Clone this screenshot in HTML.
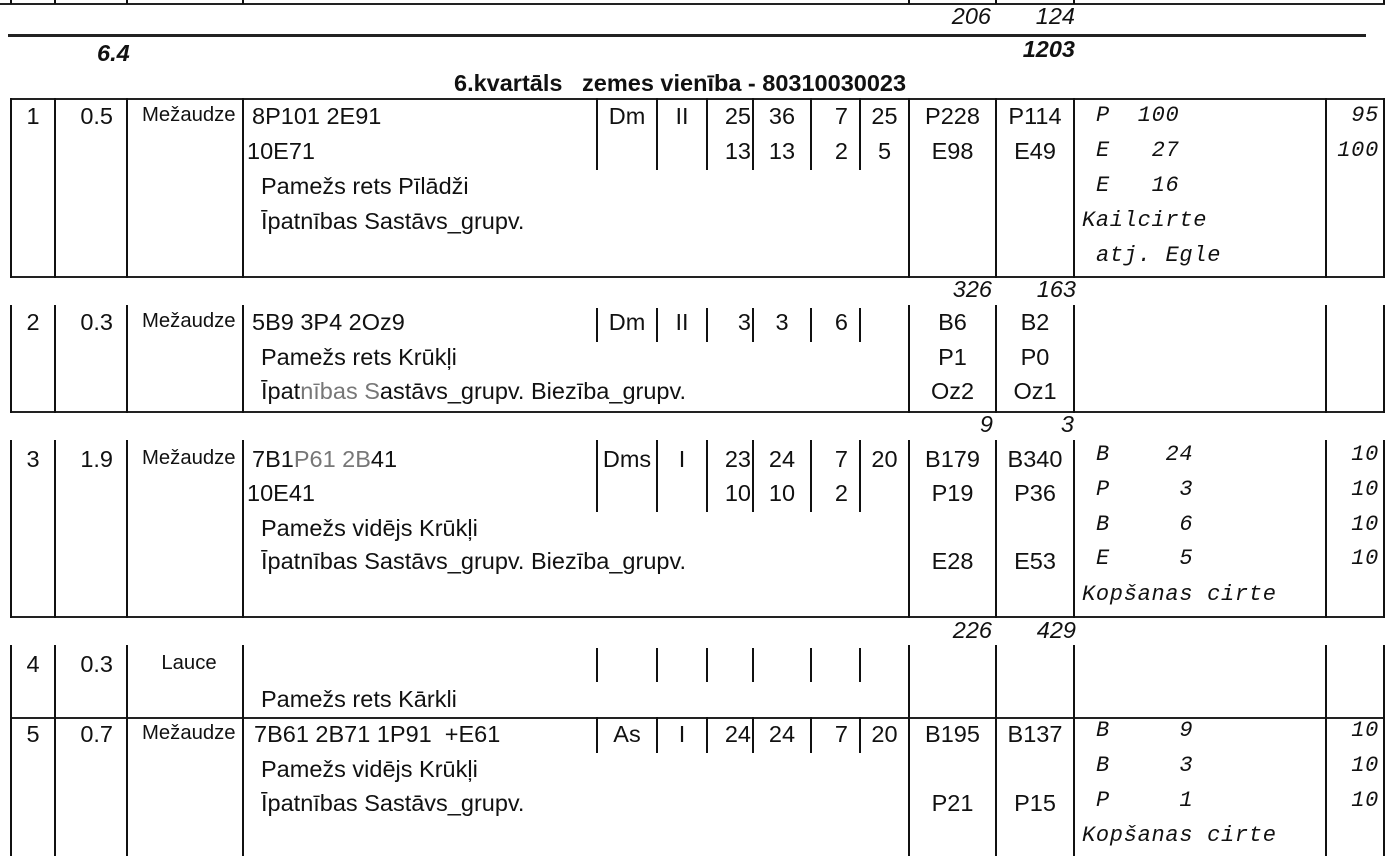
<!DOCTYPE html>
<html><head><meta charset="utf-8"><style>
body{margin:0;width:1396px;height:856px;background:#fff;position:relative;overflow:hidden;font-family:"Liberation Sans",sans-serif;color:#111}
div{position:absolute}
.t{font-size:23.5px;line-height:24px;white-space:nowrap}
.s{font-size:20.3px;line-height:24px;white-space:nowrap}
.m{font-family:"Liberation Mono",monospace;font-style:italic;font-size:22px;line-height:24px;white-space:pre;letter-spacing:0.7px}
.i{font-style:italic;font-size:23.5px;line-height:24px;white-space:nowrap}
.b{font-weight:bold}
.c{text-align:center}.r{text-align:right}
.v{width:2px;background:#111}
.h{height:2px;background:#222}
</style></head><body>
<!-- top fragment -->
<div class="h" style="left:0;top:3px;width:1385px"></div>
<div class="v" style="left:10px;top:0;height:4px"></div><div class="v" style="left:54px;top:0;height:4px"></div>
<div class="v" style="left:126px;top:0;height:4px"></div><div class="v" style="left:242px;top:0;height:4px"></div>
<div class="v" style="left:908px;top:0;height:4px"></div><div class="v" style="left:995px;top:0;height:4px"></div>
<div class="v" style="left:1073px;top:0;height:4px"></div><div class="v" style="left:1383px;top:0;height:4px"></div>
<div class="i r" style="left:900px;width:91px;top:4px">206</div>
<div class="i r" style="left:1000px;width:75px;top:4px">124</div>
<div class="h" style="left:8px;top:34px;width:1358px;height:3px"></div>
<div class="i b" style="left:97px;top:41px">6.4</div>
<div class="i b r" style="left:990px;width:85px;top:37px">1203</div>
<div class="t b" style="left:454px;top:71px">6.kvartāls&nbsp;&nbsp; zemes vienība - 80310030023</div>

<!-- Row 1 -->
<div class="h" style="left:10px;top:98px;width:1375px"></div>
<div class="h" style="left:10px;top:276px;width:1375px"></div>
<div class="v" style="left:10px;top:98px;height:180px"></div>
<div class="v" style="left:54px;top:98px;height:180px"></div>
<div class="v" style="left:126px;top:98px;height:180px"></div>
<div class="v" style="left:242px;top:98px;height:180px"></div>
<div class="v" style="left:908px;top:98px;height:180px"></div>
<div class="v" style="left:995px;top:98px;height:180px"></div>
<div class="v" style="left:1073px;top:98px;height:180px"></div>
<div class="v" style="left:1325px;top:98px;height:180px"></div>
<div class="v" style="left:1383px;top:98px;height:180px"></div>
<div class="v" style="left:596px;top:98px;height:72px"></div>
<div class="v" style="left:656px;top:98px;height:72px"></div>
<div class="v" style="left:706px;top:98px;height:72px"></div>
<div class="v" style="left:752px;top:98px;height:72px"></div>
<div class="v" style="left:810px;top:98px;height:72px"></div>
<div class="v" style="left:859px;top:98px;height:72px"></div>
<div class="t c" style="left:12px;width:42px;top:104px">1</div>
<div class="t r" style="left:56px;width:57px;top:104px">0.5</div>
<div class="s" style="left:142px;top:103px">Mežaudze</div>
<div class="t" style="left:252px;top:104px">8P101 2E91</div>
<div class="t" style="left:247px;top:139px">10E71</div>
<div class="t" style="left:261px;top:174px">Pamežs rets Pīlādži</div>
<div class="t" style="left:261px;top:209px">Īpatnības Sastāvs_grupv.</div>
<div class="t c" style="left:598px;width:58px;top:104px">Dm</div>
<div class="t c" style="left:658px;width:48px;top:104px">II</div>
<div class="t r" style="left:708px;width:43px;top:104px">25</div><div class="t c" style="left:754px;width:56px;top:104px">36</div>
<div class="t r" style="left:812px;width:36px;top:104px">7</div><div class="t c" style="left:861px;width:47px;top:104px">25</div>
<div class="t r" style="left:708px;width:43px;top:139px">13</div><div class="t c" style="left:754px;width:56px;top:139px">13</div>
<div class="t r" style="left:812px;width:36px;top:139px">2</div><div class="t c" style="left:861px;width:47px;top:139px">5</div>
<div class="t c" style="left:910px;width:85px;top:104px">P228</div><div class="t c" style="left:997px;width:76px;top:104px">P114</div>
<div class="t c" style="left:910px;width:85px;top:139px">E98</div><div class="t c" style="left:997px;width:76px;top:139px">E49</div>
<div class="m" style="left:1096px;top:104px">P  100</div>
<div class="m" style="left:1096px;top:139px">E   27</div>
<div class="m" style="left:1096px;top:174px">E   16</div>
<div class="m" style="left:1082px;top:209px">Kailcirte</div>
<div class="m" style="left:1096px;top:244px">atj. Egle</div>
<div class="m r" style="left:1327px;width:52px;top:104px">95</div>
<div class="m r" style="left:1327px;width:52px;top:139px">100</div>
<div class="i r" style="left:900px;width:92px;top:277px">326</div>
<div class="i r" style="left:1000px;width:76px;top:277px">163</div>

<!-- Row 2 -->
<div class="h" style="left:10px;top:411px;width:1375px"></div>
<div class="v" style="left:10px;top:305px;height:108px"></div>
<div class="v" style="left:54px;top:305px;height:108px"></div>
<div class="v" style="left:126px;top:305px;height:108px"></div>
<div class="v" style="left:242px;top:305px;height:108px"></div>
<div class="v" style="left:908px;top:305px;height:108px"></div>
<div class="v" style="left:995px;top:305px;height:108px"></div>
<div class="v" style="left:1073px;top:305px;height:108px"></div>
<div class="v" style="left:1325px;top:305px;height:108px"></div>
<div class="v" style="left:1383px;top:305px;height:108px"></div>
<div class="v" style="left:596px;top:308px;height:34px"></div>
<div class="v" style="left:656px;top:308px;height:34px"></div>
<div class="v" style="left:706px;top:308px;height:34px"></div>
<div class="v" style="left:752px;top:308px;height:34px"></div>
<div class="v" style="left:810px;top:308px;height:34px"></div>
<div class="v" style="left:859px;top:308px;height:34px"></div>
<div class="t c" style="left:12px;width:42px;top:310px">2</div>
<div class="t r" style="left:56px;width:57px;top:310px">0.3</div>
<div class="s" style="left:142px;top:309px">Mežaudze</div>
<div class="t" style="left:252px;top:310px">5B9 3P4 2Oz9</div>
<div class="t" style="left:261px;top:345px">Pamežs rets Krūkļi</div>
<div class="t" style="left:261px;top:379px">Īpat<span style="color:#777">nības S</span>astāvs_grupv. Biezība_grupv.</div>
<div class="t c" style="left:598px;width:58px;top:310px">Dm</div>
<div class="t c" style="left:658px;width:48px;top:310px">II</div>
<div class="t r" style="left:708px;width:43px;top:310px">3</div><div class="t c" style="left:754px;width:56px;top:310px">3</div>
<div class="t r" style="left:812px;width:36px;top:310px">6</div>
<div class="t c" style="left:910px;width:85px;top:310px">B6</div><div class="t c" style="left:997px;width:76px;top:310px">B2</div>
<div class="t c" style="left:910px;width:85px;top:345px">P1</div><div class="t c" style="left:997px;width:76px;top:345px">P0</div>
<div class="t c" style="left:910px;width:85px;top:379px">Oz2</div><div class="t c" style="left:997px;width:76px;top:379px">Oz1</div>
<div class="i r" style="left:900px;width:93px;top:412px">9</div>
<div class="i r" style="left:1000px;width:74px;top:412px">3</div>

<!-- Row 3 -->
<div class="h" style="left:10px;top:616px;width:1375px"></div>
<div class="v" style="left:10px;top:440px;height:178px"></div>
<div class="v" style="left:54px;top:440px;height:178px"></div>
<div class="v" style="left:126px;top:440px;height:178px"></div>
<div class="v" style="left:242px;top:440px;height:178px"></div>
<div class="v" style="left:908px;top:440px;height:178px"></div>
<div class="v" style="left:995px;top:440px;height:178px"></div>
<div class="v" style="left:1073px;top:440px;height:178px"></div>
<div class="v" style="left:1325px;top:440px;height:178px"></div>
<div class="v" style="left:1383px;top:440px;height:178px"></div>
<div class="v" style="left:596px;top:440px;height:72px"></div>
<div class="v" style="left:656px;top:440px;height:72px"></div>
<div class="v" style="left:706px;top:440px;height:72px"></div>
<div class="v" style="left:752px;top:440px;height:72px"></div>
<div class="v" style="left:810px;top:440px;height:72px"></div>
<div class="v" style="left:859px;top:440px;height:72px"></div>
<div class="t c" style="left:12px;width:42px;top:447px">3</div>
<div class="t r" style="left:56px;width:57px;top:447px">1.9</div>
<div class="s" style="left:142px;top:446px">Mežaudze</div>
<div class="t" style="left:252px;top:447px">7B1<span style="color:#777">P61 2B</span>41</div>
<div class="t" style="left:247px;top:481px">10E41</div>
<div class="t" style="left:261px;top:516px">Pamežs vidējs Krūkļi</div>
<div class="t" style="left:261px;top:549px">Īpatnības Sastāvs_grupv. Biezība_grupv.</div>
<div class="t c" style="left:598px;width:58px;top:447px">Dms</div>
<div class="t c" style="left:658px;width:48px;top:447px">I</div>
<div class="t r" style="left:708px;width:43px;top:447px">23</div><div class="t c" style="left:754px;width:56px;top:447px">24</div>
<div class="t r" style="left:812px;width:36px;top:447px">7</div><div class="t c" style="left:861px;width:47px;top:447px">20</div>
<div class="t r" style="left:708px;width:43px;top:481px">10</div><div class="t c" style="left:754px;width:56px;top:481px">10</div>
<div class="t r" style="left:812px;width:36px;top:481px">2</div>
<div class="t c" style="left:910px;width:85px;top:447px">B179</div><div class="t c" style="left:997px;width:76px;top:447px">B340</div>
<div class="t c" style="left:910px;width:85px;top:481px">P19</div><div class="t c" style="left:997px;width:76px;top:481px">P36</div>
<div class="t c" style="left:910px;width:85px;top:549px">E28</div><div class="t c" style="left:997px;width:76px;top:549px">E53</div>
<div class="m" style="left:1096px;top:443px">B    24</div>
<div class="m" style="left:1096px;top:478px">P     3</div>
<div class="m" style="left:1096px;top:513px">B     6</div>
<div class="m" style="left:1096px;top:547px">E     5</div>
<div class="m" style="left:1082px;top:583px">Kopšanas cirte</div>
<div class="m r" style="left:1327px;width:52px;top:443px">10</div>
<div class="m r" style="left:1327px;width:52px;top:478px">10</div>
<div class="m r" style="left:1327px;width:52px;top:513px">10</div>
<div class="m r" style="left:1327px;width:52px;top:547px">10</div>
<div class="i r" style="left:900px;width:92px;top:618px">226</div>
<div class="i r" style="left:1000px;width:76px;top:618px">429</div>

<!-- Row 4 -->
<div class="v" style="left:10px;top:645px;height:75px"></div>
<div class="v" style="left:54px;top:645px;height:75px"></div>
<div class="v" style="left:126px;top:645px;height:75px"></div>
<div class="v" style="left:242px;top:645px;height:75px"></div>
<div class="v" style="left:908px;top:645px;height:75px"></div>
<div class="v" style="left:995px;top:645px;height:75px"></div>
<div class="v" style="left:1073px;top:645px;height:75px"></div>
<div class="v" style="left:1325px;top:645px;height:75px"></div>
<div class="v" style="left:1383px;top:645px;height:75px"></div>
<div class="v" style="left:596px;top:648px;height:34px"></div>
<div class="v" style="left:656px;top:648px;height:34px"></div>
<div class="v" style="left:706px;top:648px;height:34px"></div>
<div class="v" style="left:752px;top:648px;height:34px"></div>
<div class="v" style="left:810px;top:648px;height:34px"></div>
<div class="v" style="left:859px;top:648px;height:34px"></div>
<div class="t c" style="left:12px;width:42px;top:652px">4</div>
<div class="t r" style="left:56px;width:57px;top:652px">0.3</div>
<div class="s c" style="left:128px;width:122px;top:651px">Lauce</div>
<div class="t" style="left:261px;top:687px">Pamežs rets Kārkli</div>

<!-- Row 5 -->
<div class="h" style="left:10px;top:717px;width:1375px"></div>
<div class="v" style="left:10px;top:717px;height:139px"></div>
<div class="v" style="left:54px;top:717px;height:139px"></div>
<div class="v" style="left:126px;top:717px;height:139px"></div>
<div class="v" style="left:242px;top:717px;height:139px"></div>
<div class="v" style="left:908px;top:717px;height:139px"></div>
<div class="v" style="left:995px;top:717px;height:139px"></div>
<div class="v" style="left:1073px;top:717px;height:139px"></div>
<div class="v" style="left:1325px;top:717px;height:139px"></div>
<div class="v" style="left:1383px;top:717px;height:139px"></div>
<div class="v" style="left:596px;top:717px;height:36px"></div>
<div class="v" style="left:656px;top:717px;height:36px"></div>
<div class="v" style="left:706px;top:717px;height:36px"></div>
<div class="v" style="left:752px;top:717px;height:36px"></div>
<div class="v" style="left:810px;top:717px;height:36px"></div>
<div class="v" style="left:859px;top:717px;height:36px"></div>
<div class="t c" style="left:12px;width:42px;top:722px">5</div>
<div class="t r" style="left:56px;width:57px;top:722px">0.7</div>
<div class="s" style="left:142px;top:721px">Mežaudze</div>
<div class="t" style="left:254px;top:722px">7B61 2B71 1P91&nbsp; +E61</div>
<div class="t" style="left:261px;top:757px">Pamežs vidējs Krūkļi</div>
<div class="t" style="left:261px;top:791px">Īpatnības Sastāvs_grupv.</div>
<div class="t c" style="left:598px;width:58px;top:722px">As</div>
<div class="t c" style="left:658px;width:48px;top:722px">I</div>
<div class="t r" style="left:708px;width:43px;top:722px">24</div><div class="t c" style="left:754px;width:56px;top:722px">24</div>
<div class="t r" style="left:812px;width:36px;top:722px">7</div><div class="t c" style="left:861px;width:47px;top:722px">20</div>
<div class="t c" style="left:910px;width:85px;top:722px">B195</div><div class="t c" style="left:997px;width:76px;top:722px">B137</div>
<div class="t c" style="left:910px;width:85px;top:791px">P21</div><div class="t c" style="left:997px;width:76px;top:791px">P15</div>
<div class="m" style="left:1096px;top:719px">B     9</div>
<div class="m" style="left:1096px;top:754px">B     3</div>
<div class="m" style="left:1096px;top:789px">P     1</div>
<div class="m" style="left:1082px;top:824px">Kopšanas cirte</div>
<div class="m r" style="left:1327px;width:52px;top:719px">10</div>
<div class="m r" style="left:1327px;width:52px;top:754px">10</div>
<div class="m r" style="left:1327px;width:52px;top:789px">10</div>
</body></html>
